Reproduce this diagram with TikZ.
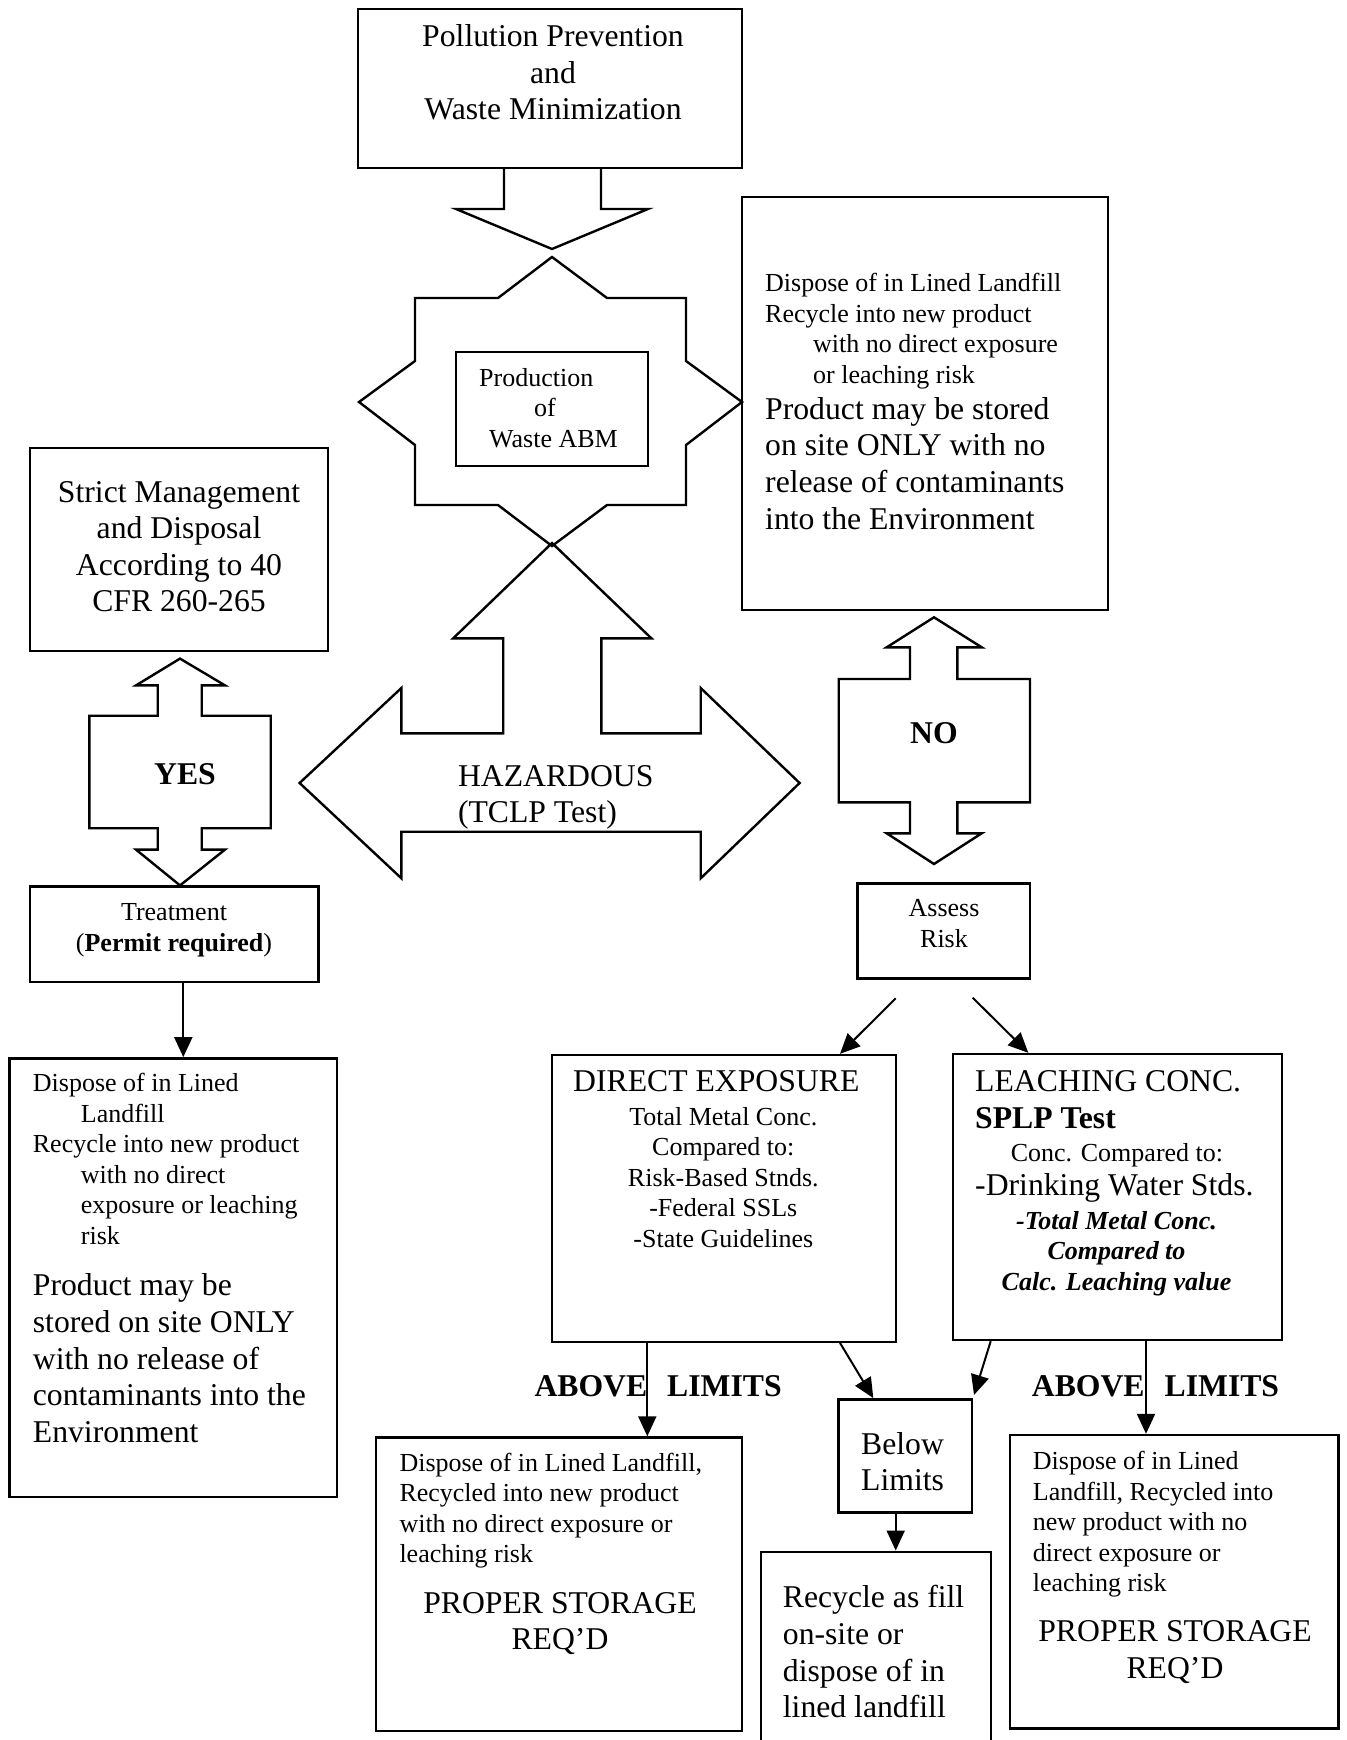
\documentclass[tikz,border=0pt]{standalone}
\usepackage{fontspec}
\setmainfont{Liberation Serif}
\usetikzlibrary{arrows.meta,fit}
\newcommand\bigfnt{\fontsize{15.85}{18.3}\selectfont}
\newcommand\smallfnt{\fontsize{13}{15.25}\selectfont}
\begin{document}
\begin{tikzpicture}[x=0.5pt,y=-0.5pt,line width=1.2pt,>={Triangle[width=9pt,length=10pt]},
	box/.style={draw,inner sep=0pt,fit={#1}},
	lbl/.style={inner sep=0pt,font=\bigfnt,align=left},
	sml/.style={inner sep=0pt,font=\smallfnt,align=left},
	arr/.style={->,line width=1pt}]
				\useasboundingbox (0,0) rectangle (1346,1740);
				\clip (0,0) rectangle (1346,1740);
				% top
				\node[box={(358,9) (742,168)}] (prev) {};
				\node[lbl,align=center,anchor=north] (prevT) at (553,23.5) {Pollution Prevention\\and\\Waste Minimization};
				\draw (504,168)--(504,209)--(456,209)--(552,249)--(648,209)--(601,209)--(601,168);
				\draw (552,257)--(607,298)--(686,298)--(686,361)--(742,402)--(686,445)--(686,505)--(607,505)--(552,546)--(498,505)--(415,505)--(415,445)--(359,402)--(415,361)--(415,298)--(498,298)--cycle;
				\node[box={(456,352) (648,466)}] (abm) {};
				\node[sml,anchor=north west] (abmT) at (478,367) {Production\\\hspace*{27.5pt}of\\\hspace*{5pt}Waste ABM};
				% no branch box
				\node[box={(742,197) (1108,610)}] (rtop) {};
				\node[sml,anchor=north west] (rtopA) at (764,272) {Dispose of in Lined Landfill\\Recycle into new product\\\hspace*{24pt}with no direct exposure\\\hspace*{24pt}or leaching risk};
				\node[lbl,anchor=north west] (rtopB) at (764,396) {Product may be stored\\on site ONLY with no\\release of contaminants\\into the Environment};
				% hazardous
				\draw (299.6,783)--(401.4,688)--(401.4,733.3)--(503.2,733.3)--(503.2,638.3)--(453.2,638.3)--(552,543)--(651.4,638.3)--(601.4,638.3)--(601.4,733.3)--(700.7,733.3)--(700.7,688)--(799.6,783)--(700.7,878.3)--(700.7,831.7)--(401.4,831.7)--(401.4,878.3)--cycle;
				\node[lbl,anchor=north west] (haz) at (456.8,764) {HAZARDOUS\\(TCLP Test)};
				% yes side
				\node[box={(30,448) (328,651)}] (strict) {};
				\node[lbl,align=center,anchor=north] (strictT) at (179,480) {Strict Management\\and Disposal\\According to 40\\CFR 260-265};
				\draw (180,658.6)--(225,685.4)--(201.7,685.4)--(201.7,715.7)--(270.7,715.7)--(270.7,828.2)--(201.7,828.2)--(201.7,849.6)--(225,849.6)--(180,885.4)--(136,849.6)--(157.7,849.6)--(157.7,828.2)--(89.3,828.2)--(89.3,715.7)--(157.7,715.7)--(157.7,685.4)--(136,685.4)--cycle;
				\node[font=\bigfnt\bfseries] (yes) at (185,774.6) {YES};
				\node[box={(30,886.4) (318.3,981.8)}] (treat) {};
				\node[sml,align=center,anchor=north] (treatT) at (174,902.5) {Treatment\\(\textbf{Permit required})};
				\node[box={(9.3,1058.3) (336.7,1496.7)}] (disL) {};
				\draw[arr] (treat.south -| 183.3,0)--(disL.north -| 183.3,0);
				\node[sml,anchor=north west] (disLA) at (31.7,1072) {Dispose of in Lined\\\hspace*{24pt}Landfill\\Recycle into new product\\\hspace*{24pt}with no direct\\\hspace*{24pt}exposure or leaching\\\hspace*{24pt}risk};
				\node[lbl,anchor=north west] (disLB) at (31.7,1272.7) {Product may be\\stored on site ONLY\\with no release of\\contaminants into the\\Environment};
				% no side
				\draw (934,617.3)--(981.7,647.3)--(957.3,647.3)--(957.3,679)--(1030,679)--(1030,802.3)--(957.3,802.3)--(957.3,833.3)--(981.7,833.3)--(934,864)--(886.7,833.3)--(910,833.3)--(910,802.3)--(838.7,802.3)--(838.7,679)--(910,679)--(910,647.3)--(886.7,647.3)--cycle;
				\node[font=\bigfnt\bfseries] (no) at (934,733.3) {NO};
				\node[box={(857.3,883.3) (1030,978.3)}] (assess) {};
				\node[sml,align=center,anchor=north] (assessT) at (944,898.5) {Assess\\Risk};
				\coordinate (aL) at (895.7,998.3);
				\coordinate (aR) at (972.7,997.7);
				\node[box={(551.7,1055) (895.7,1341.7)}] (direct) {};
				\node[lbl,anchor=north] (directA) at (716.3,1069.3) {DIRECT EXPOSURE};
				\node[sml,align=center,anchor=north] (directB) at (723.3,1105.8) {Total Metal Conc.\\Compared to:\\Risk-Based Stnds.\\-Federal SSLs\\-State Guidelines};
				\node[box={(952.7,1054) (1281.7,1340)}] (leach) {};
				\node[lbl,anchor=north west] (leachA) at (974,1069.3) {LEACHING CONC.\\\textbf{SPLP Test}};
				\node[sml,anchor=north] (leachB) at (1117,1141.8) {Conc. Compared to:};
				\node[lbl,anchor=north west] (leachC) at (974,1172.7) {-Drinking Water Stds.};
				\node[sml,align=center,anchor=north,font=\smallfnt\bfseries\itshape] (leachD) at (1116.5,1210.2) {-Total Metal Conc.\\Compared to\\Calc. Leaching value};
				\draw[arr] (aL)--(direct.north -| 840,0);
				\draw[arr] (aR)--(leach.north -| 1028.3,0);
				% results
				\node[box={(838.3,1399.3) (972,1512.5)}] (below) {};
				\node[lbl,anchor=north west] (belowT) at (860,1431) {Below\\Limits};
				\node[box={(376,1437.5) (741.7,1731)}] (disM) {};
				\node[sml,anchor=north west] (disMA) at (398.3,1451.8) {Dispose of in Lined Landfill,\\Recycled into new product\\with no direct exposure or\\leaching risk};
				\node[lbl,align=center,anchor=north] (disMB) at (560,1591) {PROPER STORAGE\\REQ'D};
				\node[box={(1010,1435) (1338.3,1728.3)}] (disR) {};
				\node[sml,anchor=north west] (disRA) at (1031.7,1450.2) {Dispose of in Lined\\Landfill, Recycled into\\new product with no\\direct exposure or\\leaching risk};
				\node[lbl,align=center,anchor=north] (disRB) at (1175,1619.3) {PROPER STORAGE\\REQ'D};
				\node[box={(761,1551.7) (990.7,1750)}] (recyc) {};
				\node[lbl,anchor=north west] (recycT) at (781.7,1584.3) {Recycle as fill\\on-site or\\dispose of in\\lined landfill};
				\draw[arr] (direct.south -| 647.3,0)--(disM.north -| 647.3,0);
				\node[lbl,font=\bigfnt\bfseries,anchor=west] (aboveL) at (533.3,1386.7) {ABOVE\hspace{10pt}LIMITS};
				\draw[arr] (direct.south -| 840,0)--(below.north -| 873.3,0);
				\draw[arr] (leach.south -| 990.7,0)--(974,1395);
				\draw[arr] (leach.south -| 1146,0)--(disR.north -| 1146,0);
				\node[lbl,font=\bigfnt\bfseries,anchor=west] (aboveR) at (1030.7,1386.7) {ABOVE\hspace{10pt}LIMITS};
				\draw[arr] (below.south -| 895.7,0)--(recyc.north -| 895.7,0);
			\end{tikzpicture}
\end{document}
